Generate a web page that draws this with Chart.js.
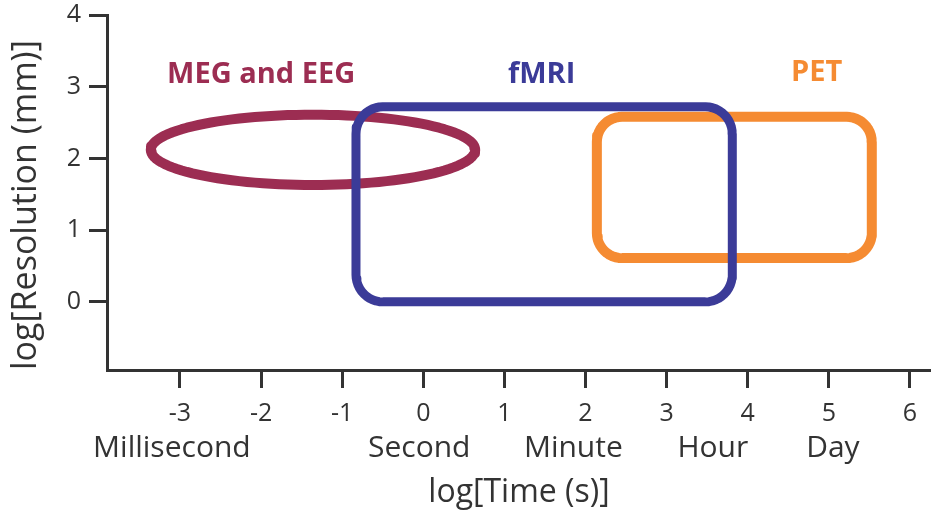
<!DOCTYPE html>
<html>
<head>
<meta charset="utf-8">
<script src="https://cdn.jsdelivr.net/npm/chart.js@4"></script>
<style>
  html, body { margin: 0; padding: 0; background: #fff; }
  #wrap { width: 931px; height: 512px; }
</style>
</head>
<body>
<div id="wrap"><canvas id="myChart"></canvas></div>
<script>
// tick labels
const xTicks = [-3, -2, -1, 0, 1, 2, 3, 4, 5, 6];
const yTicks = [0, 1, 2, 3, 4];
const timeUnits = ["Millisecond", "Second", "Minute", "Hour", "Day"];
const timeUnitLog = [-3.1, -0.05, 1.85, 3.57, 5.05];

// regions (log time, log resolution)
const megCenter = [-1.36, 2.12];
const megRadii = [2.0, 0.49];
const fmriBox = [-0.83, 0.0, 3.81, 2.72]; // xmin, ymin, xmax, ymax
const petBox = [2.14, 0.61, 5.53, 2.58];
const fmriCorner = [0.33, 0.38];
const petCorner = [0.31, 0.35];

const labelNames = ["MEG and EEG", "fMRI", "PET"];
const labelX = [-2.0, 1.46, 4.85];
const labelY = [3.17, 3.17, 3.19];

const colMEG = "#9c2d52";
const colFMRI = "#3b3b98";
const colPET = "#f58b32";
const labelColors = [colMEG, colFMRI, colPET];

const FONT = "'Open Sans', sans-serif";
const INK = "#333333";

function ellipsePts(c, r) {
  const pts = [];
  for (let i = 0; i <= 120; i++) {
    const t = (i / 120) * Math.PI * 2;
    pts.push({ x: c[0] + r[0] * Math.cos(t), y: c[1] + r[1] * Math.sin(t) });
  }
  return pts;
}

function roundBoxPts(b, cr) {
  const [x0, y0, x1, y1] = b;
  const [rx, ry] = cr;
  const corners = [
    [x1 - rx, y1 - ry, 0],
    [x0 + rx, y1 - ry, 90],
    [x0 + rx, y0 + ry, 180],
    [x1 - rx, y0 + ry, 270],
  ];
  const pts = [];
  corners.forEach(([cx, cy, a0]) => {
    for (let i = 0; i <= 12; i++) {
      const a = ((a0 + (i / 12) * 90) * Math.PI) / 180;
      pts.push({ x: cx + rx * Math.cos(a), y: cy + ry * Math.sin(a) });
    }
  });
  pts.push(pts[0]);
  return pts;
}

function shape(data, color, width, order) {
  return {
    data: data,
    showLine: true,
    borderColor: color,
    borderWidth: width,
    pointRadius: 0,
    tension: 0,
    fill: false,
    borderJoinStyle: "round",
    borderCapStyle: "round",
    order: order,
    xAxisID: "x",
    yAxisID: "y",
  };
}

const regionLabels = {
  id: "regionLabels",
  afterDatasetsDraw(chart) {
    const { ctx, scales } = chart;
    ctx.save();
    ctx.font = "bold 29px " + FONT;
    ctx.textAlign = "center";
    ctx.textBaseline = "middle";
    labelNames.forEach((t, i) => {
      ctx.fillStyle = labelColors[i];
      ctx.fillText(t, scales.x.getPixelForValue(labelX[i]), scales.y.getPixelForValue(labelY[i]));
    });
    ctx.restore();
  },
};

const config = {
  type: "scatter",
  data: {
    datasets: [
      shape(roundBoxPts(fmriBox, fmriCorner), colFMRI, 9, 0),
      shape(roundBoxPts(petBox, petCorner), colPET, 10, 1),
      shape(ellipsePts(megCenter, megRadii), colMEG, 10, 2),
    ],
  },
  options: {
    responsive: true,
    maintainAspectRatio: false,
    animation: false,
    layout: { padding: { top: 15, right: 0, left: 0, bottom: 0 } },
    plugins: {
      legend: { display: false },
      tooltip: { enabled: false },
    },
    scales: {
      x: {
        type: "linear",
        position: "bottom",
        min: -3.9,
        max: 6.26,
        weight: 0,
        afterBuildTicks: (s) => {
          s.ticks = xTicks.map((v) => ({ value: v }));
        },
        afterFit: (s) => {
          s.height = 58;
        },
        ticks: {
          font: { family: FONT, size: 25 },
          color: INK,
          padding: 11,
          maxRotation: 0,
          autoSkip: false,
        },
        grid: { drawOnChartArea: false, tickLength: 18, tickWidth: 3, color: INK },
        border: { width: 3, color: INK },
      },
      x2: {
        type: "linear",
        axis: "x",
        position: "bottom",
        min: -3.9,
        max: 6.26,
        weight: 1,
        afterBuildTicks: (s) => {
          s.ticks = timeUnitLog.map((v) => ({ value: v }));
        },
        afterFit: (s) => {
          s.height = 84;
        },
        ticks: {
          font: { family: FONT, size: 30 },
          color: INK,
          padding: 2,
          maxRotation: 0,
          autoSkip: false,
          callback: (v, i) => timeUnits[i],
        },
        grid: { display: false, drawTicks: false },
        border: { display: false },
        title: {
          display: true,
          text: "log[Time (s)]",
          font: { family: FONT, size: 32 },
          color: INK,
          padding: 0,
        },
      },
      y: {
        type: "linear",
        min: -0.95,
        max: 4,
        afterBuildTicks: (s) => {
          s.ticks = yTicks.map((v) => ({ value: v }));
        },
        afterFit: (s) => {
          s.width = 107;
          s.paddingTop = 0;
          s.paddingBottom = 0;
        },
        ticks: {
          font: { family: FONT, size: 25 },
          color: INK,
          padding: 8,
        },
        grid: { drawOnChartArea: false, tickLength: 18, tickWidth: 3, color: INK },
        border: { width: 3, color: INK },
        title: {
          display: true,
          text: "log[Resolution (mm)]",
          align: "start",
          font: { family: FONT, size: 34 },
          color: INK,
          padding: { top: 6, bottom: 0 },
        },
      },
    },
  },
  plugins: [regionLabels],
};

const myChart = new Chart(document.getElementById("myChart"), config);
</script>
</body>
</html>
